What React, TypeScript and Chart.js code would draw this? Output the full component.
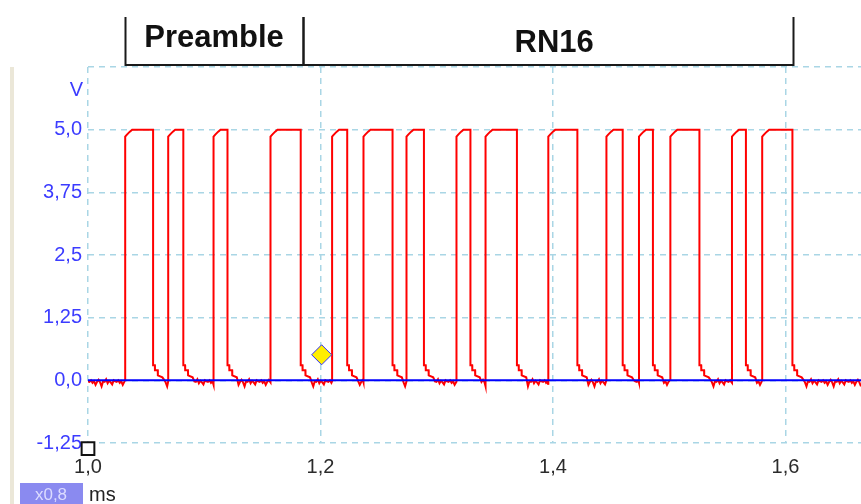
import React, { useEffect, useRef } from 'react';
import { Chart, registerables } from 'chart.js';

Chart.register(...registerables);

// ---- data ----
const xMin = 1.0;
const xMax = 1.665;
const xTicks = [1.0, 1.2, 1.4, 1.6];
const xTickLabels = ['1,0', '1,2', '1,4', '1,6'];
const yMin = -1.25;
const yMax = 6.25;
const yTicks = [-1.25, 0, 1.25, 2.5, 3.75, 5.0, 6.25];
const yTickLabels = ['-1,25', '0,0', '1,25', '2,5', '3,75', '5,0', ''];
const yUnit = 'V';
const xUnit = 'ms';
const zoomLabel = 'x0,8';

// rising / falling edges of the red trace (ms)
const riseTimes = [1.032, 1.069, 1.108, 1.157, 1.210, 1.237, 1.274, 1.317, 1.342, 1.396, 1.446, 1.474, 1.501, 1.554, 1.580];
const fallTimes = [1.056, 1.082, 1.120, 1.183, 1.223, 1.262, 1.289, 1.329, 1.369, 1.421, 1.460, 1.486, 1.526, 1.566, 1.606];
const highLevel = 5.0;
// levels just after a rising edge (settling to 5 V)
const riseDelays = [0, 0.0015, 0.004, 0.006];
const riseLevels = [4.86, 4.9, 4.96, 5.0];
// levels just after a falling edge (slow tail)
const fallDelays = [0, 0.0015, 0.0016, 0.004, 0.0041, 0.008];
const fallLevels = [0.3, 0.3, 0.2, 0.2, 0.1, 0.06];
// hand-read ripple of the low level
const lowNoise = [-0.02, -0.03, 0.0, -0.05, -0.02, -0.09, -0.03, 0.01, -0.04, -0.12, -0.02, -0.03, 0.02, -0.06, -0.01, -0.04, -0.08, 0.0];
const lowStep = 0.0013;

// blue reference trace
const blueX = [1.0, 1.665];
const blueY = [0, 0];

// markers
const diamondX = [1.201];
const diamondY = [0.51];
const squareX = [1.0];
const squareY = [-1.36];

// header sections
const sectionNames = ['Preamble', 'RN16'];
const sectionStart = [1.0318, 1.1849];
const sectionEnd = [1.1849, 1.6065];
const sectionLabelAt = [1.1084, 1.401];

function buildRed() {
  const pts: { x: number; y: number }[] = [];
  let n = 0;
  const addLow = (from: number, to: number) => {
    for (let t = from; t < to - 0.0005; t += lowStep) {
      pts.push({ x: t, y: lowNoise[n % lowNoise.length] });
      n++;
    }
  };
  addLow(xMin, riseTimes[0]);
  for (let i = 0; i < riseTimes.length; i++) {
    const r = riseTimes[i];
    const f = fallTimes[i];
    pts.push({ x: r, y: lowNoise[n % lowNoise.length] });
    for (let k = 0; k < riseDelays.length; k++) pts.push({ x: r + riseDelays[k], y: riseLevels[k] });
    pts.push({ x: f, y: highLevel });
    for (let k = 0; k < fallDelays.length; k++) pts.push({ x: f + fallDelays[k], y: fallLevels[k] });
    const next = i + 1 < riseTimes.length ? riseTimes[i + 1] : xMax;
    addLow(f + 0.0095, next);
  }
  pts.push({ x: xMax, y: lowNoise[n % lowNoise.length] });
  return pts;
}

const FONT = "'Liberation Sans', Arial, sans-serif";

const overlayPlugin = {
  id: 'overlay',
  beforeDraw(chart: any) {
    const ctx = chart.ctx;
    ctx.save();
    ctx.fillStyle = '#ebe7d8';
    ctx.fillRect(10, 67, 4, 504 - 67);
    ctx.restore();
  },
  afterDraw(chart: any) {
    const ctx = chart.ctx;
    const xs = chart.scales.x;
    ctx.save();
    // header brackets
    ctx.strokeStyle = '#1a1a1a';
    ctx.lineWidth = 2;
    const topY = 17;
    const botY = 65;
    for (let i = 0; i < sectionNames.length; i++) {
      const a = Math.round(xs.getPixelForValue(sectionStart[i])) + 0.5;
      const b = Math.round(xs.getPixelForValue(sectionEnd[i])) + 0.5;
      ctx.beginPath();
      ctx.moveTo(a, topY);
      ctx.lineTo(a, botY);
      ctx.lineTo(b, botY);
      ctx.lineTo(b, topY);
      ctx.stroke();
      ctx.fillStyle = '#111';
      ctx.font = `bold 31px ${FONT}`;
      ctx.textAlign = 'center';
      ctx.textBaseline = 'alphabetic';
      ctx.fillText(sectionNames[i], xs.getPixelForValue(sectionLabelAt[i]), i === 0 ? 47 : 52);
    }
    // unit V
    ctx.fillStyle = '#3c3cff';
    ctx.font = `20px ${FONT}`;
    ctx.textAlign = 'right';
    ctx.fillText(yUnit, 83, 96);
    // zoom box
    ctx.fillStyle = '#8a8af0';
    ctx.fillRect(20, 483, 63, 21);
    ctx.fillStyle = '#dcdcff';
    ctx.font = `17px ${FONT}`;
    ctx.textAlign = 'center';
    ctx.fillText(zoomLabel, 51, 500);
    ctx.fillStyle = '#222';
    ctx.font = `20px ${FONT}`;
    ctx.textAlign = 'left';
    ctx.fillText(xUnit, 89, 501);
    ctx.restore();
  },
};

export default function App() {
  const ref = useRef<HTMLCanvasElement | null>(null);
  useEffect(() => {
    if (!ref.current) return;
    const chart = new Chart(ref.current, {
      type: 'line',
      data: {
        datasets: [
          {
            label: 'marker',
            data: diamondX.map((x, i) => ({ x, y: diamondY[i] })),
            showLine: false,
            pointStyle: 'rectRot',
            pointRadius: 10,
            backgroundColor: '#ffee00',
            borderColor: '#3030ff',
            borderWidth: 1,
            order: -2,
          } as any,
          {
            label: 'origin',
            data: squareX.map((x, i) => ({ x, y: squareY[i] })),
            showLine: false,
            pointStyle: 'rect',
            pointRadius: 9,
            backgroundColor: '#ffffff',
            borderColor: '#111111',
            borderWidth: 2,
            clip: false,
            order: -2,
          } as any,
          {
            label: 'ch2',
            data: blueX.map((x, i) => ({ x, y: blueY[i] })),
            borderColor: '#0000ff',
            borderWidth: 2,
            pointRadius: 0,
            tension: 0,
            order: -1,
          },
          {
            label: 'ch1',
            data: buildRed(),
            borderColor: '#ff0000',
            borderWidth: 2,
            pointRadius: 0,
            tension: 0,
            order: 0,
          },
        ],
      },
      options: {
        animation: false,
        responsive: false,
        maintainAspectRatio: false,
        layout: { autoPadding: false, padding: { top: 67, left: 0, right: 0, bottom: 0 } },
        plugins: { legend: { display: false }, tooltip: { enabled: false } },
        scales: {
          x: {
            type: 'linear',
            min: xMin,
            max: xMax,
            afterBuildTicks: (s: any) => {
              s.ticks = xTicks.map((v) => ({ value: v }));
            },
            afterFit: (s: any) => {
              s.height = 61;
              s.paddingLeft = 0;
              s.paddingRight = 0;
            },
            ticks: {
              callback: (_v: any, i: number) => xTickLabels[i],
              color: '#2b2b2b',
              font: { family: FONT, size: 20 },
              padding: 12,
              maxRotation: 0,
              autoSkip: false,
            },
            grid: { color: '#a9d6e5', lineWidth: 1.5, drawTicks: false },
            border: { display: false, dash: [6, 5] },
          },
          y: {
            type: 'linear',
            min: yMin,
            max: yMax,
            afterBuildTicks: (s: any) => {
              s.ticks = yTicks.map((v) => ({ value: v }));
            },
            afterFit: (s: any) => {
              s.width = 88;
              s.paddingTop = 0;
              s.paddingBottom = 0;
            },
            ticks: {
              callback: (_v: any, i: number) => yTickLabels[i],
              color: '#3c3cff',
              font: { family: FONT, size: 20 },
              padding: 6,
              autoSkip: false,
            },
            grid: { color: '#a9d6e5', lineWidth: 1.5, drawTicks: false },
            border: { display: false, dash: [6, 5] },
          },
        },
      },
      plugins: [overlayPlugin],
    });
    return () => chart.destroy();
  }, []);
  return (
    <div style={{ position: 'absolute', left: 0, top: 0, width: 861, height: 504, background: '#fff' }}>
      <canvas ref={ref} width={861} height={504} style={{ width: 861, height: 504, display: 'block' }} />
    </div>
  );
}
